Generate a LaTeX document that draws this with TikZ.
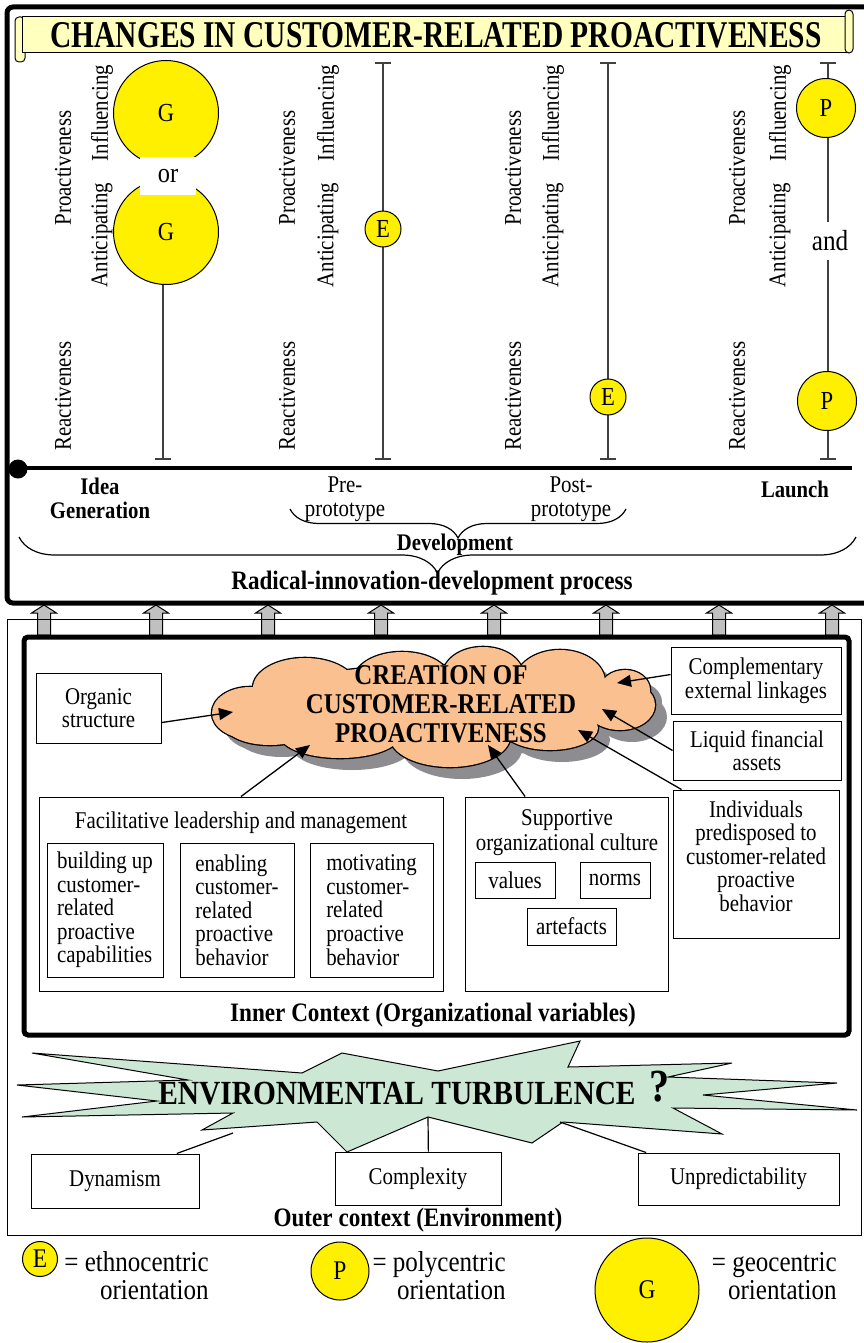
\documentclass[tikz,border=0pt]{standalone}
\usepackage{fontspec}
\setmainfont{Liberation Serif}[FakeStretch=0.87]
\newfontfamily\bannerfont{Liberation Serif}[FakeStretch=0.78]
\usetikzlibrary{decorations.pathreplacing,arrows.meta}
\definecolor{orientyellow}{RGB}{255,240,0}
\definecolor{bannercream}{RGB}{255,255,190}
\definecolor{cloudorange}{RGB}{250,192,143}
\definecolor{cloudshade}{RGB}{140,140,145}
\definecolor{turbgreen}{RGB}{204,232,212}
\definecolor{axisgray}{RGB}{64,64,64}
\definecolor{arrowgray}{RGB}{192,192,192}
% puffs of the cloud: centre x / centre y / x radius / y radius
\def\cloudpuffs{250/713/38/26, 305/688/52/30, 402/680/48/28, 483/675/40/28, 560/682/45/32, 625/690/25/20, 620/705/35/25, 550/728/48/22, 450/737/60/30, 340/735/60/23, 270/725/45/20, 435/705/180/40}
\begin{document}
\begin{tikzpicture}[x=0.5pt,y=-0.5pt,
  txt/.style={inner sep=0pt, align=center, font=\fontsize{12}{11.8}\selectfont},
  sidetxt/.style={txt, rotate=90},
  boldtxt/.style={inner sep=0pt, align=center, font=\fontsize{11.9}{12}\selectfont\bfseries},
  headtxt/.style={inner sep=0pt, align=center, font=\fontsize{13.3}{13.3}\selectfont\bfseries},
  legtxt/.style={inner sep=0pt, align=right, font=\fontsize{14.4}{14}\selectfont},
  box/.style={draw, line width=0.5pt, fill=white, inner sep=0pt, align=center, font=\fontsize{12}{11.8}\selectfont},
  orient/.style={circle, draw, line width=0.5pt, fill=orientyellow, inner sep=0pt, font=\fontsize{13}{13}\selectfont},
  conn/.style={-{Triangle[length=7pt,width=6pt]}, line width=0.65pt},
  link/.style={line width=0.6pt},
  axis/.style={draw=axisgray, line width=0.75pt},
  upblock/.style={fill=arrowgray, line width=0.5pt},
]
\useasboundingbox (0,0) rectangle (863,1343);

% top part: changes in proactiveness
\draw [line width=2.5pt, rounded corners=3pt] (880,7) -- (7,7) -- (7,603) -- (880,603);
\draw [line width=0.5pt, fill=bannercream, rounded corners=2pt] (15,17) rectangle (25,62);
\draw [line width=0.5pt, fill=bannercream] (22,17) rectangle (848,53);
\draw [line width=0.5pt, fill=bannercream, rounded corners=2pt] (845,10) rectangle (853,53);
\node [inner sep=0pt, font=\bannerfont\fontsize{18.9}{18.9}\selectfont\bfseries] (title) at (436,35) {CHANGES IN CUSTOMER-RELATED PROACTIVENESS};

\foreach \x in {163,383,608,828} {
  \draw [axis] (\x-8,63) -- (\x+8,63);
  \draw [axis] (\x,63) -- (\x,459);
  \draw [axis] (\x-8,459) -- (\x+8,459);
}
\foreach \i/\a/\b in {1/63/102, 2/287/328, 3/513/553, 4/737/780} {
  \node [sidetxt] (pro\i) at (\a,168) {Proactiveness};
  \node [sidetxt] (rea\i) at (\a,396) {Reactiveness};
  \node [sidetxt] (inf\i) at (\b,113) {Influencing};
  \node [sidetxt] (ant\i) at (\b,235) {Anticipating};
}

\node [orient, minimum size=52.5pt] (geoInf) at (166,113) {G};
\node [orient, minimum size=52.5pt] (geoAnt) at (166,232) {G};
\node [fill=white, inner sep=0pt, minimum width=28pt, minimum height=19pt, font=\fontsize{14}{14}\selectfont] (orWord) at (168,176) {or};
\node [orient, minimum size=18pt] (ethPre) at (383,229) {E};
\node [orient, minimum size=18pt] (ethPost) at (608,397) {E};
\node [orient, minimum size=29.5pt] (polyInf) at (826,108) {P};
\node [fill=white, inner sep=0pt, minimum width=22pt, minimum height=19pt, font=\fontsize{14.5}{14.5}\selectfont] (andWord) at (830,241) {and};
\node [orient, minimum size=29.5pt] (polyRea) at (827,401) {P};

% timeline
\draw [line width=2pt] (18,468) -- (852,468);
\fill (18,469) circle [radius=9.5];
\node [boldtxt] (ideaLbl) at (100,498) {Idea\\Generation};
\node [txt] (preLbl) at (345,499) {Pre-\\prototype};
\node [txt] (postLbl) at (571,499) {Post-\\prototype};
\node [boldtxt] (launchLbl) at (795,489) {Launch};
\draw [decorate, decoration={brace, mirror, amplitude=14.5pt}, line width=0.6pt] (290,509) -- (626,509);
\node [boldtxt] (devLbl) at (455,545) {Development};
\draw [decorate, decoration={brace, mirror, amplitude=18pt}, line width=0.6pt] (19,537) -- (856,537);
\node [headtxt] (radLbl) at (432,583) {Radical-innovation-development process};

% links between the parts
\foreach \x in {44,156,268,381,494,606,719,832}
  \draw [upblock] (\x-6.5,635) -- (\x-6.5,613) -- (\x-12.5,613) -- (\x,605) -- (\x+12.5,613) -- (\x+6.5,613) -- (\x+6.5,635) -- cycle;

\draw [line width=0.5pt] (7,619) rectangle (861,1235);
\draw [line width=2.5pt, rounded corners=2pt] (24,637) rectangle (849,1035);

% inner context: cloud = shadow, outline, fill
\foreach \cx/\cy/\rx/\ry in \cloudpuffs
  \fill [cloudshade] (\cx+12,\cy+12) ellipse [x radius=\rx, y radius=\ry];
\foreach \cx/\cy/\rx/\ry in \cloudpuffs
  \draw [line width=1.3pt] (\cx,\cy) ellipse [x radius=\rx, y radius=\ry];
\foreach \cx/\cy/\rx/\ry in \cloudpuffs
  \fill [cloudorange] (\cx,\cy) ellipse [x radius=\rx, y radius=\ry];
\node [inner sep=0pt, align=center, font=\fontsize{14.3}{14.5}\selectfont\bfseries] (cloudText) at (441,704) {CREATION OF\\CUSTOMER-RELATED\\PROACTIVENESS};

\node [box, minimum width=62.5pt, minimum height=35pt] (organicBox) at (98.5,708) {Organic\\structure};
\node [box, minimum width=85pt, minimum height=33.5pt] (complBox) at (756,680.5) {Complementary\\external linkages};
\node [box, minimum width=84pt, minimum height=29.5pt] (liquidBox) at (757,750.5) {Liquid financial\\assets};
\node [box, minimum width=83pt, minimum height=74pt] (indivBox) at (756,864) {};
\node [txt] (indivText) at (756,856) {Individuals\\predisposed to\\customer-related\\proactive\\behavior};

\node [box, minimum width=202pt, minimum height=97pt] (facilBox) at (241,894) {};
\node [txt] (facilTitle) at (241,823) {Facilitative leadership and management};
\node [box, align=left, minimum width=58pt, minimum height=67pt] (buildBox) at (105,910) {building up\\customer-\\related\\proactive\\capabilities};
\node [box, align=left, minimum width=57pt, minimum height=67pt] (enableBox) at (237,910) {enabling\\customer-\\related\\proactive\\behavior};
\node [box, align=left, minimum width=61.5pt, minimum height=67pt] (motivBox) at (371.5,910) {motivating\\customer-\\related\\proactive\\behavior};

\node [box, minimum width=101.5pt, minimum height=97pt] (suppBox) at (566.5,894) {};
\node [txt, font=\fontsize{12}{12.5}\selectfont] (suppTitle) at (567,832.5) {Supportive\\organizational culture};
\node [box, minimum width=40pt, minimum height=18pt] (valuesBox) at (515,880) {values};
\node [box, minimum width=35pt, minimum height=18pt] (normsBox) at (615,880) {norms};
\node [box, minimum width=44.5pt, minimum height=18.5pt] (artefBox) at (571.5,926.5) {artefacts};

\coordinate (organicTip) at (233,712);
\coordinate (complTip) at (617,683);
\coordinate (liquidTip) at (602,709);
\coordinate (indivTip) at (578,730);
\coordinate (facilTip) at (310,745);
\coordinate (suppTip) at (488,745);
\draw [conn] (organicBox.-13.5) -- (organicTip);
\draw [conn] (complBox.176) -- (complTip);
\draw [conn] (liquidBox.west) -- (liquidTip);
\draw [conn] (indivBox.135) -- (indivTip);
\draw [conn] (facilBox.north) -- (facilTip);
\draw [conn] (suppBox.113) -- (suppTip);

\node [headtxt] (innerLbl) at (433,1015) {Inner Context (Organizational variables)};

% outer context
\draw [fill=turbgreen, line width=0.5pt] (32,1053) -- (302,1073) -- (342,1053) -- (438,1071) -- (580,1041) -- (568,1067) -- (732,1063) -- (668,1077) -- (837,1083) -- (703,1095) -- (857,1110) -- (673,1108) -- (722,1134) -- (563,1122) -- (532,1143) -- (428,1117) -- (347,1152) -- (317,1122) -- (202,1130) -- (233,1113) -- (22,1117) -- (157,1101) -- (17,1085) -- (188,1080) -- cycle;
\node [inner sep=0pt, font=\fontsize{16.9}{16.9}\selectfont\bfseries] (turbText) at (397,1094) {ENVIRONMENTAL TURBULENCE};
\node [inner sep=0pt, font=\fontsize{23}{23}\selectfont\bfseries] (qMark) at (659,1087) {?};

\node [box, minimum width=84pt, minimum height=27pt] (dynBox) at (115,1181) {Dynamism};
\node [box, minimum width=83pt, minimum height=26.5pt] (comBox) at (418,1178.5) {Complexity};
\node [box, minimum width=100.5pt, minimum height=26pt] (unpBox) at (738.5,1179) {Unpredictability};
\coordinate (turbDyn) at (233,1133);
\coordinate (turbCom) at (428,1117);
\coordinate (turbUnp) at (560,1122);
\draw [link] (dynBox.24) -- (turbDyn);
\draw [link] (comBox.69) -- (turbCom);
\draw [link] (unpBox.164) -- (turbUnp);
\node [headtxt] (outerLbl) at (418,1220) {Outer context (Environment)};

% legend
\node [orient, minimum size=17.5pt, font=\fontsize{13.5}{13.5}\selectfont] (legE) at (40,1259) {E};
\node [legtxt, anchor=east] (legEText) at (209,1276) {= ethnocentric\\orientation};
\node [orient, minimum size=29pt, font=\fontsize{13.5}{13.5}\selectfont] (legP) at (340,1271) {P};
\node [legtxt, anchor=east] (legPText) at (506,1276) {= polycentric\\orientation};
\node [orient, minimum size=52pt, font=\fontsize{13.5}{13.5}\selectfont] (legG) at (647,1290) {G};
\node [legtxt, anchor=east] (legGText) at (837,1276) {= geocentric\\orientation};
\end{tikzpicture}
\end{document}
